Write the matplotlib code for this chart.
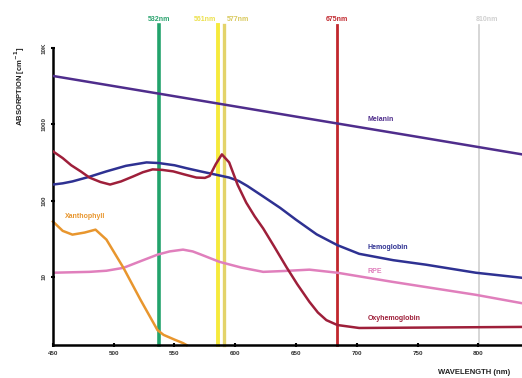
import matplotlib
matplotlib.use('Agg')
from matplotlib import pyplot as plt

plt.rcParams['font.family'] = ['Liberation Sans', 'DejaVu Sans']
plt.rcParams['font.weight'] = 'bold'

# absorption curves (wavelength nm, absorption cm^-1)
melanin_nm = [450, 550, 650, 750, 836]
melanin = [4300, 2330, 1260, 684, 403]

hemo_nm = [450, 458, 466, 480, 494, 510, 527, 537, 550, 560, 572, 583, 595, 603, 610, 623, 637, 650, 667, 684, 702, 730, 757, 798, 836]
hemo = [162, 168, 178, 205, 241, 285, 316, 310, 290, 265, 240, 220, 200, 180, 155, 113, 80, 56, 36, 26, 20, 16.5, 14.4, 11.3, 9.7]

oxy_nm = [450, 458, 465, 473, 480, 489, 497, 506, 516, 524, 532, 540, 549, 558, 568, 575, 579, 584, 589, 595, 602, 609, 616, 623, 632, 642, 651, 661, 668, 675, 684, 702, 836]
oxy = [441, 360, 290, 240, 200, 175, 162, 178, 207, 235, 256, 252, 241, 220, 200, 198, 210, 300, 403, 316, 160, 94, 62, 43, 25, 13.5, 8, 4.7, 3.4, 2.7, 2.33, 2.13, 2.2]

rpe_nm = [450, 480, 494, 508, 522, 536, 546, 557, 565, 572, 587, 605, 623, 640, 661, 684, 729, 798, 836]
rpe = [11.3, 11.6, 12, 13.1, 16, 19.5, 21.5, 22.7, 21.5, 19.5, 15.7, 13.2, 11.6, 11.9, 12.4, 11.3, 8.6, 5.8, 4.5]

xanth_nm = [450, 458, 466, 476, 485, 494, 508, 522, 536, 541, 550, 557, 560]
xanth = [53, 40, 35.7, 38, 41.5, 30.7, 13.1, 5.0, 2.0, 1.73, 1.5, 1.35, 1.27]

# laser lines: position on the axis, label, colour
line_pos = [537, 586, 591, 684, 801]
line_labels = ['532nm', '561nm', '577nm', '675nm', '810nm']
line_colors = ['#22a36c', '#f6ea3c', '#e3d36a', '#c1272d', '#cfcfcf']
line_label_colors = ['#2aa36e', '#ece04a', '#d8c85a', '#c1272d', '#d0d0d0']
line_widths = [2.6, 2.8, 2.4, 2.0, 1.2]
line_label_ha = ['center', 'right', 'left', 'center', 'center']
line_label_dx = [0, -2, 2, 0, 6]

xticks = [450, 500, 550, 600, 650, 700, 750, 800]
yticks = [10, 100, 1000, 10000]
ytick_labels = ['10', '100', '1000', '10K']

fig = plt.figure(figsize=(5.22, 3.78), dpi=100)
ax = fig.add_axes([0.1015, 0.087, 0.8985, 0.786])

ax.set_yscale('log')
ax.set_xlim(450, 836)
ax.set_ylim(1.27, 10000)

for x, lab, c, lc, w, ha, dx in zip(line_pos, line_labels, line_colors, line_label_colors,
                                     line_widths, line_label_ha, line_label_dx):
    ax.axvline(x, ymin=0, ymax=1.077, color=c, lw=w, clip_on=False, zorder=1)
    ax.text(x + dx, 1.095, lab, transform=ax.get_xaxis_transform(), color=lc,
            fontsize=5, ha=ha, va='center')

ax.plot(melanin_nm, melanin, color='#4f2d8c', lw=1.8, zorder=3)
ax.plot(hemo_nm, hemo, color='#2e3192', lw=1.8, zorder=3)
ax.plot(oxy_nm, oxy, color='#9e1f3a', lw=1.8, zorder=3)
ax.plot(rpe_nm, rpe, color='#e07fbc', lw=1.8, zorder=2)
ax.plot(xanth_nm, xanth, color='#e8962e', lw=1.8, zorder=2, clip_on=False)

ax.text(709, 1170, 'Melanin', color='#4f2d8c', fontsize=5, va='center')
ax.text(709, 24.4, 'Hemoglobin', color='#2e3192', fontsize=5, va='center')
ax.text(709, 11.9, 'RPE', color='#e07fbc', fontsize=5, va='center')
ax.text(709, 2.87, 'Oxyhemoglobin', color='#9e1f3a', fontsize=5, va='center')
ax.text(460, 62, 'Xanthophyll', color='#e8962e', fontsize=5, va='center')

for s in ['top', 'right']:
    ax.spines[s].set_visible(False)
ax.spines['left'].set_linewidth(1.8)
ax.spines['bottom'].set_linewidth(1.8)

ax.set_xticks(xticks)
ax.set_xticklabels([str(t) for t in xticks])
ax.set_yticks(yticks)
ax.set_yticklabels(ytick_labels, rotation=90, va='center')
ax.minorticks_off()
ax.tick_params(axis='both', length=3, width=1.5, direction='inout', labelsize=4.5,
               labelcolor='#333333', pad=3)

fig.text(20 / 522, 1 - 86 / 378, 'ABSORPTION [cm$^{-1}$]', rotation=90,
         ha='center', va='center', fontsize=5.5, color='#222222')
fig.text(438 / 522, 1 - 372 / 378, 'WAVELENGTH (nm)', ha='left', va='center',
         fontsize=5.5, color='#222222')

plt.savefig('out.png', dpi=100)
plt.close()
